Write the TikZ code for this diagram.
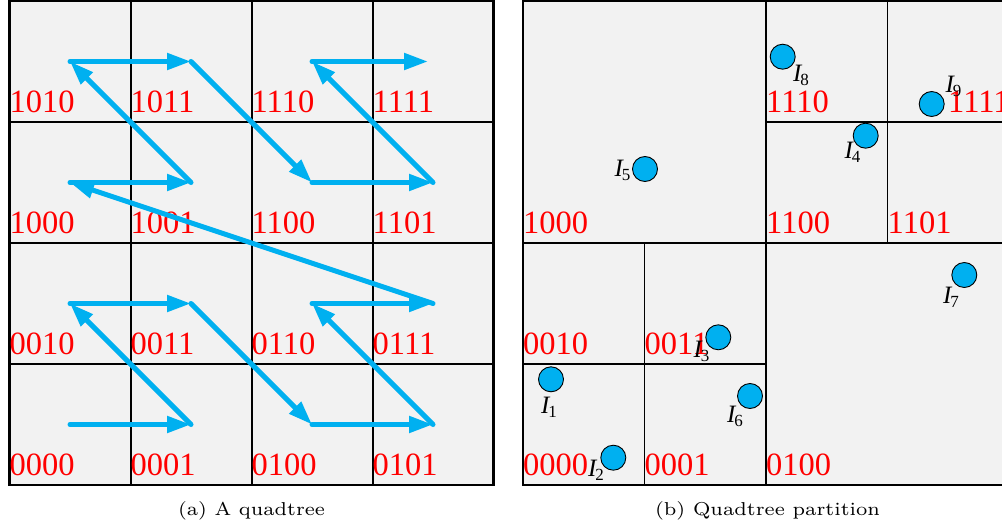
\documentclass[tikz,border=0pt]{standalone}
\usepackage{fontspec}
\usepackage{graphicx}
\newfontfamily\tnr{Liberation Serif}
\usetikzlibrary{arrows.meta}
\definecolor{qblue}{HTML}{00B0F0}
\definecolor{qgray}{HTML}{F2F2F2}
\newcommand\Ilab[1]{{\tnr\fontsize{25}{25}\selectfont\itshape I}\kern-1pt{\tnr\fontsize{17}{17}\selectfont\raisebox{-4pt}{#1}}}
\tikzset{
  code/.style={anchor=base west, inner sep=0pt, text=red, font=\tnr\fontsize{32.5}{33}\selectfont},
  zarrow/.style={qblue, line width=5pt, line cap=round, -{Triangle[length=24pt,width=16pt]}},
  dot/.style={circle, fill=qblue, draw=black, line width=0.9pt, minimum size=25pt, inner sep=0pt},
  ilab/.style={inner sep=0pt, anchor=center},
  captext/.style={inner sep=0pt, anchor=base},
  gridA/.style={line width=2pt, black},
  gridB/.style={line width=1.3pt, black}
}
\begin{document}
\begin{tikzpicture}[x=1pt,y=-1pt]
\useasboundingbox (0,0) rectangle (1002,527);
\clip (0,0) rectangle (1002,527);
% ---------- (a) left grid ----------
\fill[qgray] (9.5,1) rectangle (493.5,485);
\foreach \i in {0,...,4} {
  \draw[gridA] (9.5+121*\i,1) -- (9.5+121*\i,485);
  \draw[gridA] (9.5,1+121*\i) -- (493.5,1+121*\i);
}
\draw[line width=2.5pt] (9.5,1) rectangle (493.5,485);
% labels: col, row-from-top
\foreach \lab/\c/\r in {1010/0/0,1011/1/0,1110/2/0,1111/3/0,
                        1000/0/1,1001/1/1,1100/2/1,1101/3/1,
                        0010/0/2,0011/1/2,0110/2/2,0111/3/2,
                        0000/0/3,0001/1/3,0100/2/3,0101/3/3} {
  \node[code] (a\lab) at (9.5+121*\c, 1+121*\r+111) {\lab};
  \coordinate (z\lab) at (70+121*\c, 61.5+121*\r);
}
\foreach \s/\e in {0000/0001,0001/0010,0010/0011,0011/0100,0100/0101,0101/0110,0110/0111,0111/1000,
                   1000/1001,1001/1010,1010/1011,1011/1100,1100/1101,1101/1110} {
  \draw[zarrow] (z\s) -- (z\e);
}
\coordinate (zend) at (428,61.5);
\draw[zarrow] (z1110) -- (zend);
\node[captext] (capa) at (251.5,515.3) {\resizebox{147pt}{14pt}{\fontsize{7}{8}\selectfont (a)\ A quadtree}};
% ---------- (b) right partition ----------
\fill[qgray] (523,1) rectangle (1009,485);
\draw[gridB] (766,1) -- (766,485);
\draw[gridB] (523,243) -- (1009,243);
\draw[gridB] (644.5,243) -- (644.5,485);
\draw[gridB] (523,364) -- (766,364);
\draw[gridB] (887.5,1) -- (887.5,243);
\draw[gridB] (766,122) -- (1009,122);
\draw[line width=1.6pt] (523,1) rectangle (1009,485);
\node[code] (b1000) at (523,233) {1000};
\node[code] (b1110) at (766,112) {1110};
\node[code] (b1111) at (948,112) {1111};
\node[code] (b1100) at (766,233) {1100};
\node[code] (b1101) at (887.5,233) {1101};
\node[code] (b0010) at (523,354) {0010};
\node[code] (b0011) at (644.5,354) {0011};
\node[code] (b0000) at (523,475) {0000};
\node[code] (b0001) at (644.5,475) {0001};
\node[code] (b0100) at (766,475) {0100};
% points
\node[dot] (p1) at (551,379.3) {};
\node[dot] (p2) at (613.3,457.7) {};
\node[dot] (p3) at (718.3,337.3) {};
\node[dot] (p4) at (865.7,135.7) {};
\node[dot] (p5) at (645,169) {};
\node[dot] (p6) at (750,396) {};
\node[dot] (p7) at (964.3,275) {};
\node[dot] (p8) at (782.7,56.7) {};
\node[dot] (p9) at (931.7,104) {};
\node[ilab] (l1) at (549,407) {\Ilab{1}};
\node[ilab] (l2) at (596,470) {\Ilab{2}};
\node[ilab] (l3) at (701.5,351.5) {\Ilab{3}};
\node[ilab] (l4) at (852.5,152) {\Ilab{4}};
\node[ilab] (l5) at (622.5,170.5) {\Ilab{5}};
\node[ilab] (l6) at (735,416) {\Ilab{6}};
\node[ilab] (l7) at (951,297) {\Ilab{7}};
\node[ilab] (l8) at (801,75.5) {\Ilab{8}};
\node[ilab] (l9) at (953.5,86) {\Ilab{9}};
\node[captext] (capb) at (767.5,515.3) {\resizebox{225pt}{14pt}{\fontsize{7}{8}\selectfont (b)\ Quadtree partition}};
\end{tikzpicture}
\end{document}
